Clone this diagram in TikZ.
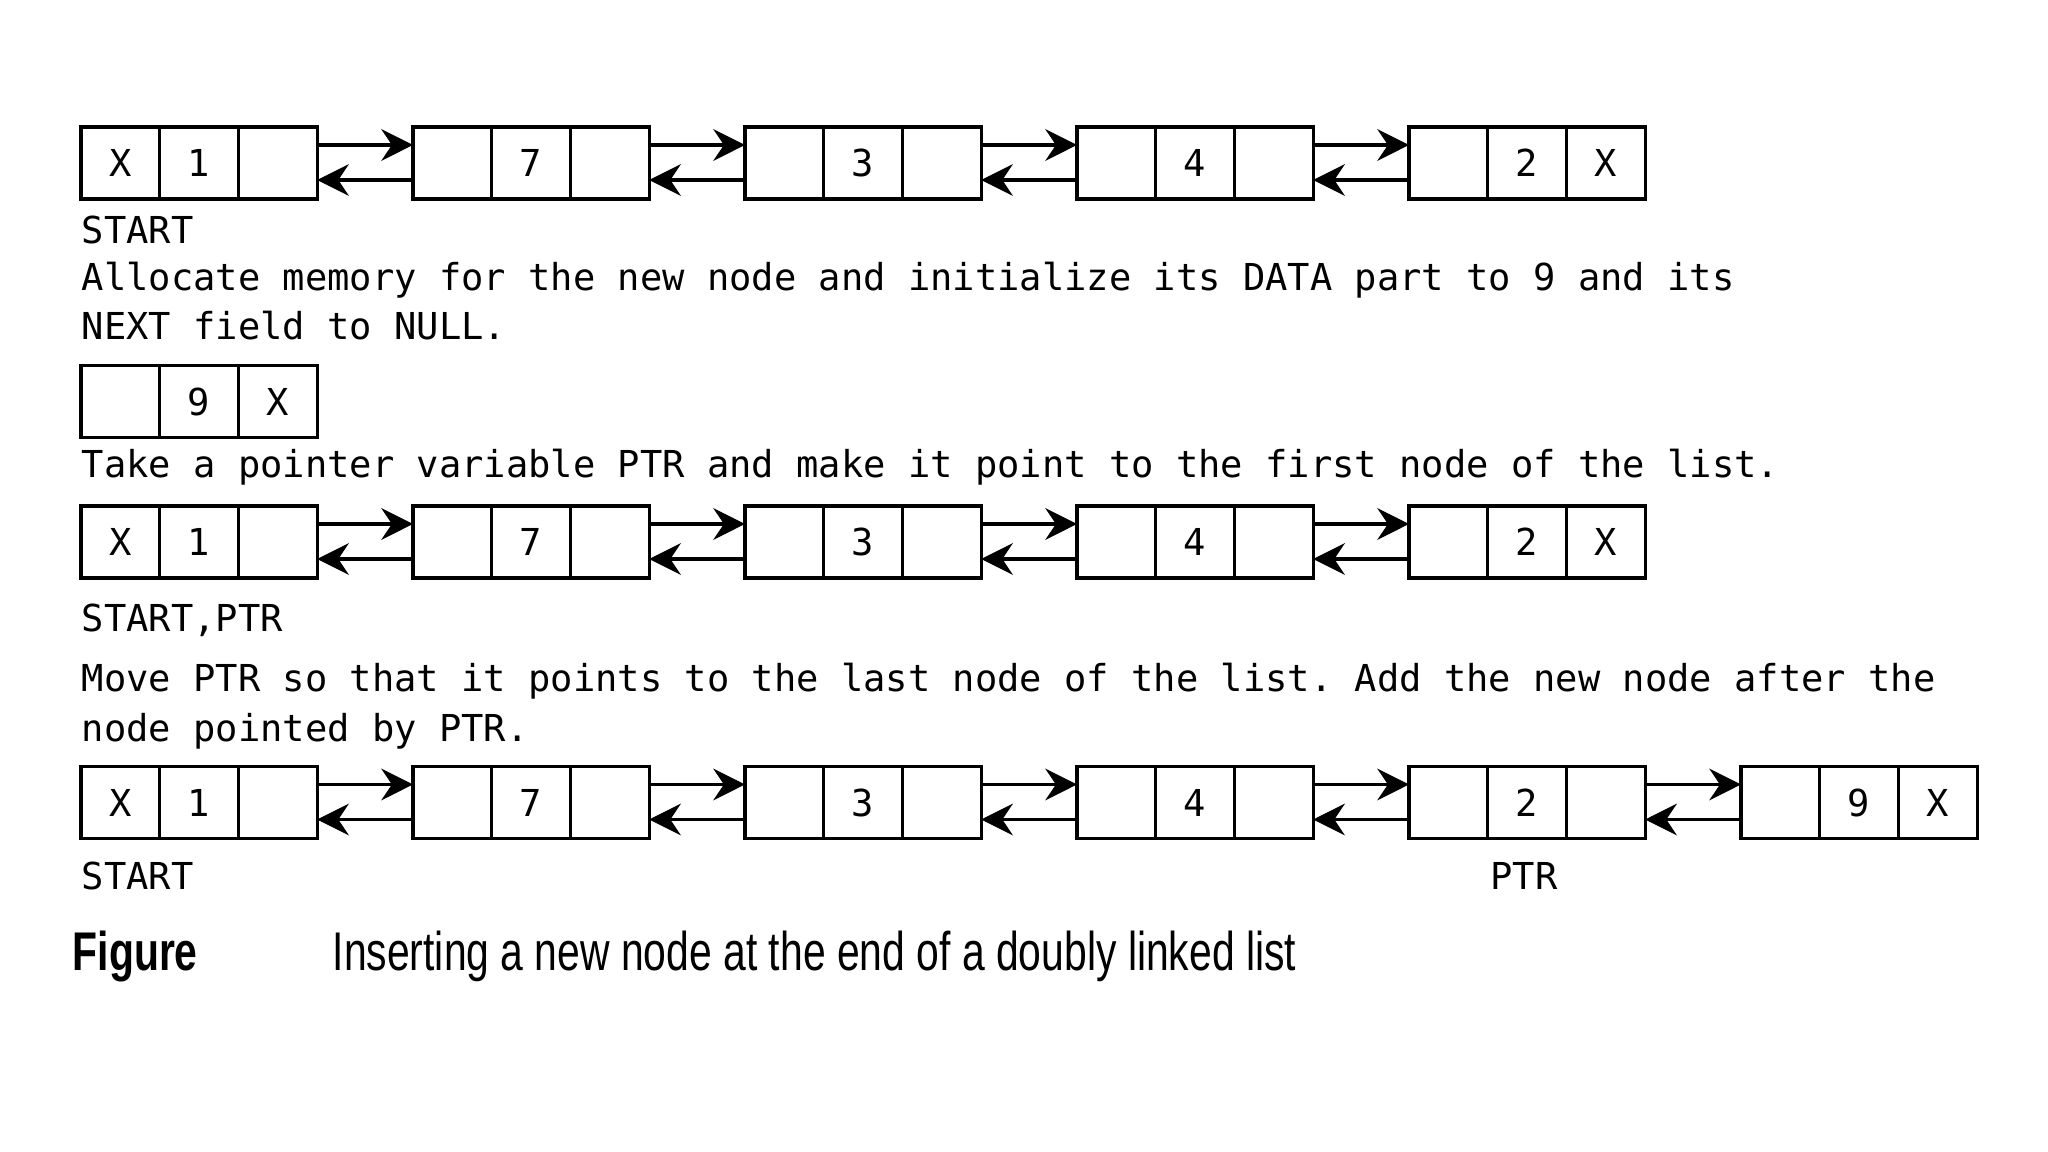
\documentclass[tikz,border=0pt]{standalone}
\usepackage{fontspec}
\setmonofont{DejaVu Sans Mono}
\newfontfamily\capfont[FakeStretch=0.75]{Liberation Sans}
\usetikzlibrary{arrows.meta,positioning}

\begin{document}
\begin{tikzpicture}
      [x = 0.01cm, y = -0.01cm,
      cell/.style = {
         draw,
         line width = 0.9pt,
         minimum width = 0.787cm,
         minimum height = 0.72cm,
         inner sep = 0pt,
         outer sep = 0pt,
         font = \ttfamily\fontsize{10.55}{12}\selectfont
      },
      link/.style = {-{Stealth[length = 9pt, width = 9pt, inset = 3pt]}, line width = 0.9pt},
      txt/.style = {anchor = base west, inner sep = 0pt, font = \ttfamily\fontsize{10.55}{12}\selectfont},
      captxt/.style = {anchor = base west, inner sep = 0pt, font = \capfont\fontsize{15.5}{18}\selectfont}]

      \useasboundingbox[fill = white] (0, 0) rectangle (2048, 1152);

      % first list
      \foreach \i/\p/\d/\n in {0/X/1/{}, 1/{}/7/{}, 2/{}/3/{}, 3/{}/4/{}, 4/{}/2/X} {
         \node[cell] (a\i p) at (120.35 + 332*\i, 163) {\p};
         \node[cell, right = 0pt of a\i p] (a\i d) {\d};
         \node[cell, right = 0pt of a\i d] (a\i n) {\n};
      }
      \foreach \i/\j in {0/1, 1/2, 2/3, 3/4} {
         \draw[link] ([yshift = 0.18cm]a\i n.east) -- ([yshift = 0.18cm]a\j p.west);
         \draw[link] ([yshift = -0.17cm]a\j p.west) -- ([yshift = -0.17cm]a\i n.east);
      }
      \node[txt] (start1) at (81, 244) {START};
      \node[txt] (alloc1) at (81, 291) {Allocate memory for the new node and initialize its DATA part to 9 and its};
      \node[txt] (alloc2) at (81, 340) {NEXT field to NULL.};

      % new node
      \node[cell] (newp) at (120.35, 401.5) {};
      \node[cell, right = 0pt of newp] (newd) {9};
      \node[cell, right = 0pt of newd] (newn) {X};
      \node[txt] (take) at (81, 478) {Take a pointer variable PTR and make it point to the first node of the list.};

      % second list
      \foreach \i/\p/\d/\n in {0/X/1/{}, 1/{}/7/{}, 2/{}/3/{}, 3/{}/4/{}, 4/{}/2/X} {
         \node[cell] (b\i p) at (120.35 + 332*\i, 542) {\p};
         \node[cell, right = 0pt of b\i p] (b\i d) {\d};
         \node[cell, right = 0pt of b\i d] (b\i n) {\n};
      }
      \foreach \i/\j in {0/1, 1/2, 2/3, 3/4} {
         \draw[link] ([yshift = 0.18cm]b\i n.east) -- ([yshift = 0.18cm]b\j p.west);
         \draw[link] ([yshift = -0.17cm]b\j p.west) -- ([yshift = -0.17cm]b\i n.east);
      }
      \node[txt] (start2) at (81, 631) {START,PTR};
      \node[txt] (move1) at (81, 691) {Move PTR so that it points to the last node of the list. Add the new node after the};
      \node[txt] (move2) at (81, 741) {node pointed by PTR.};

      % third list
      \foreach \i/\p/\d/\n in {0/X/1/{}, 1/{}/7/{}, 2/{}/3/{}, 3/{}/4/{}, 4/{}/2/{}, 5/{}/9/X} {
         \node[cell] (c\i p) at (120.35 + 332*\i, 802.5) {\p};
         \node[cell, right = 0pt of c\i p] (c\i d) {\d};
         \node[cell, right = 0pt of c\i d] (c\i n) {\n};
      }
      \foreach \i/\j in {0/1, 1/2, 2/3, 3/4, 4/5} {
         \draw[link] ([yshift = 0.18cm]c\i n.east) -- ([yshift = 0.18cm]c\j p.west);
         \draw[link] ([yshift = -0.17cm]c\j p.west) -- ([yshift = -0.17cm]c\i n.east);
      }
      \node[txt] (start3) at (81, 889) {START};
      \node[txt, anchor = base] (ptr3) at (1524, 889) {PTR};

      % caption
      \node[captxt] (figlbl) at (72, 970) {\bfseries Figure};
      \node[captxt] (figtxt) at (332, 970) {Inserting a new node at the end of a doubly linked list};

   \end{tikzpicture}
\end{document}
